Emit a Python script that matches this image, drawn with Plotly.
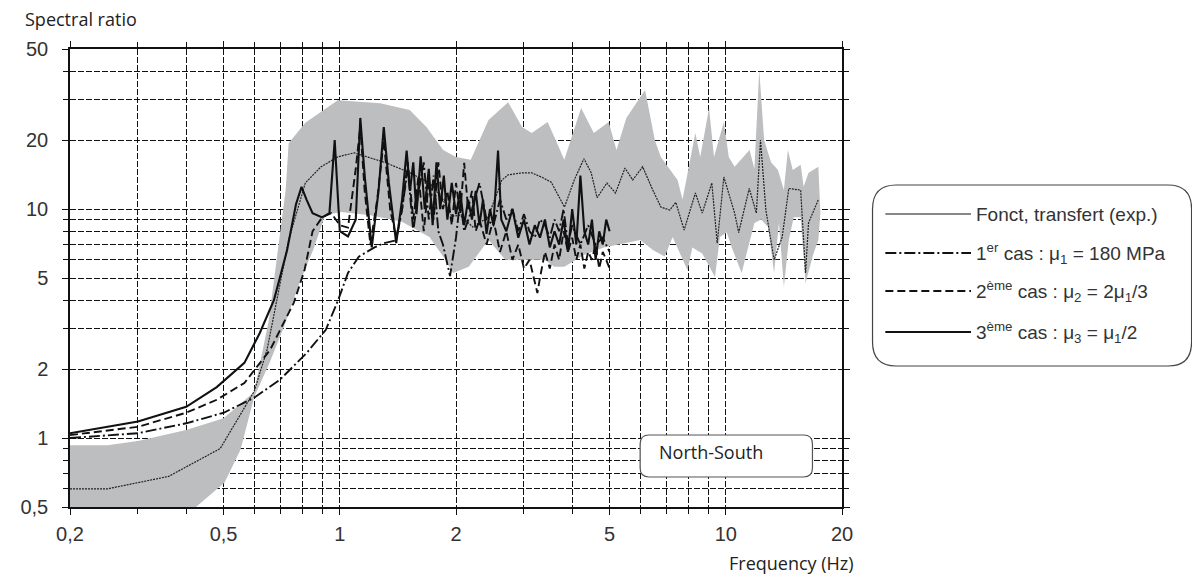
import plotly.graph_objects as go

# ---------------- data ----------------
band_upper_f = [0.2, 0.25, 0.30, 0.40, 0.50, 0.60, 0.655, 0.695, 0.724, 0.737, 0.814, 0.988, 1.273,
                1.517, 1.677, 1.853, 2.0, 2.184, 2.428, 2.73, 2.966, 3.143, 3.454, 3.598, 3.816,
                4.218, 4.551, 4.972, 5.21, 5.525, 6.178, 6.55, 6.785, 7.5, 7.724, 8.338, 8.586,
                9.05, 9.32, 9.885, 10.18, 10.54, 11.52, 11.86, 12.21, 12.57, 13.1, 13.65, 14.14,
                14.48, 14.91, 15.63, 15.91, 16.38, 17.37, 17.58]
band_upper_v = [0.93, 0.93, 0.97, 1.085, 1.22, 1.59, 3.28, 7.33, 12.1, 19.4, 23.8, 29.9, 29.0,
                27.1, 22.8, 18.1, 16.9, 16.4, 24.5, 29.3, 22.8, 21.5, 24.0, 20.6, 16.4,
                27.6, 21.5, 24.0, 18.1, 25.0, 33.1, 20.0, 16.9, 13.4, 11.0, 21.5, 16.9,
                27.6, 16.9, 24.0, 16.9, 15.3, 18.1, 15.0, 40.5, 20.0, 16.0, 14.8, 12.1,
                18.1, 14.8, 15.6, 12.5, 14.4, 15.3, 9.6]

band_lower_f = [0.2, 0.343, 0.424, 0.503, 0.553, 0.60, 0.659, 0.716, 0.786, 0.853, 0.916, 1.006,
                1.20, 1.448, 1.707, 1.853, 1.965, 2.158, 2.428, 2.683, 2.966, 3.393, 3.598, 3.816,
                4.292, 4.829, 6.0, 6.474, 6.948, 7.282, 7.957, 8.19, 8.688, 9.375, 9.656, 10.06,
                10.36, 10.99, 11.45, 11.86, 12.35, 12.87, 13.34, 13.73, 14.14, 14.56, 15.0, 15.63,
                16.09, 16.87, 17.37, 17.58]
band_lower_v = [0.4, 0.4, 0.5, 0.64, 0.89, 1.51, 2.15, 3.05, 4.75, 6.63, 9.4, 9.7,
                9.4, 8.8, 7.55, 6.2, 5.26, 5.6, 7.33, 6.0, 6.0, 6.0, 5.6, 5.6,
                6.3, 6.8, 7.33, 6.63, 6.2, 7.55, 5.4, 6.8, 6.4, 5.05, 7.55, 7.9,
                6.8, 5.26, 6.8, 8.7, 9.0, 8.35, 5.26, 8.7, 4.57, 7.33, 9.2, 9.2,
                4.75, 6.4, 7.33, 9.6]

exp_f = [0.2, 0.25, 0.36, 0.49, 0.6, 0.648, 0.695, 0.737, 0.814, 0.894, 0.988, 1.09, 1.32, 1.52,
         1.71, 1.85, 1.95, 2.05, 2.21, 2.42, 2.63, 2.73, 2.97, 3.14, 3.33, 3.53, 3.82, 4.05, 4.29,
         4.48, 4.64, 4.92, 5.18, 5.48, 5.74, 6.09, 6.47, 6.79, 7.16, 7.42, 7.8, 8.34, 8.69, 9.2,
         9.5, 9.885, 10.54, 10.8, 11.5, 12.0, 12.3, 12.7, 13.34, 14.0, 14.56, 15.63, 16.09, 16.38,
         17.37]
exp_v = [0.6, 0.6, 0.68, 0.9, 1.6, 2.43, 4.43, 7.33, 13.0, 15.3, 16.9, 17.6, 15.9, 14.4,
         13.0, 11.0, 9.3, 9.4, 8.35, 9.2, 13.4, 14.1, 14.4, 14.4, 13.8, 13.1, 10.2, 13.4, 16.6,
         14.4, 11.2, 13.0, 11.75, 15.1, 13.4, 15.3, 12.1, 10.2, 9.9, 10.7, 8.1, 11.75, 9.6, 13.0,
         7.1, 13.8, 9.6, 7.9, 12.3, 9.6, 20.0, 9.9, 6.0, 7.55, 12.3, 12.1, 5.26, 8.7,
         11.0]

case1_f = [0.2, 0.3, 0.4, 0.5, 0.6, 0.7, 0.82, 0.92, 0.99, 1.05, 1.12, 1.23, 1.3, 1.4, 1.45, 1.5,
           1.55, 1.6, 1.65, 1.7, 1.75, 1.8, 1.85, 1.93, 2.0, 2.05, 2.1, 2.2, 2.3, 2.4, 2.5, 2.6,
           2.7, 2.8, 2.9, 3.0, 3.1, 3.2, 3.3, 3.4, 3.5, 3.6, 3.7, 3.8, 3.9, 4.0, 4.2, 4.4, 4.6,
           4.8, 5.0]
case1_v = [1.0, 1.05, 1.16, 1.29, 1.5, 1.8, 2.35, 2.97, 4.0, 5.26, 6.2, 6.8, 7.1, 7.3, 10, 15,
           8, 12, 16, 9, 14, 8, 7, 5.1, 7.5, 11, 8, 10, 13, 9, 8.5, 11,
           9, 10, 8, 9.5, 8, 7.5, 9, 8.5, 7.5, 9, 8, 10, 7, 8.5, 7, 8.5, 7,
           7.5, 6.5]

case2_f = [0.2, 0.3, 0.4, 0.48, 0.566, 0.66, 0.76, 0.81, 0.85, 0.9, 0.95, 1.0, 1.05, 1.1, 1.13,
           1.16, 1.2, 1.25, 1.3, 1.35, 1.4, 1.45, 1.5, 1.55, 1.6, 1.65, 1.7, 1.75, 1.8, 1.85,
           1.9, 1.95, 2.0, 2.05, 2.1, 2.15, 2.2, 2.25, 2.3, 2.4, 2.5, 2.6, 2.7, 2.8, 2.9, 3.0,
           3.1, 3.2, 3.25, 3.3, 3.4, 3.5, 3.6, 3.7, 3.8, 3.9, 4.0, 4.1, 4.2, 4.3, 4.4, 4.5, 4.6,
           4.7, 4.8, 4.9, 5.0]
case2_v = [1.03, 1.12, 1.29, 1.47, 1.74, 2.43, 3.9, 5.4, 8.0, 9.2, 9.6, 8.5, 8.3, 15, 23,
           12, 7, 11, 20, 10, 7.5, 10, 16, 9, 14, 8, 13, 9, 16, 10,
           12, 8.5, 13, 9.5, 15.9, 10, 12, 8, 9, 7, 9, 6.5, 8, 6, 7, 5.5,
           6, 4.8, 4.3, 5, 6.5, 5.5, 7, 6, 8, 6.5, 7.5, 6, 7, 5.5, 6.5, 6, 7,
           5.5, 6.5, 6, 5.5]

case3_f = [0.2, 0.3, 0.4, 0.48, 0.566, 0.62, 0.675, 0.73, 0.77, 0.796, 0.82, 0.85, 0.9, 0.94,
           0.97, 1.0, 1.05, 1.1, 1.13, 1.16, 1.21, 1.26, 1.30, 1.34, 1.40, 1.45, 1.49, 1.52,
           1.55, 1.58, 1.62, 1.66, 1.70, 1.74, 1.78, 1.82, 1.86, 1.90, 1.95, 2.0, 2.05, 2.1,
           2.15, 2.2, 2.25, 2.3, 2.35, 2.4, 2.45, 2.5, 2.57, 2.62, 2.7, 2.8, 2.9, 3.0, 3.1,
           3.2, 3.3, 3.4, 3.5, 3.6, 3.7, 3.8, 3.9, 4.0, 4.1, 4.2, 4.3, 4.4, 4.5, 4.6, 4.7,
           4.8, 4.9, 5.0]
case3_v = [1.05, 1.18, 1.37, 1.67, 2.13, 2.87, 4.0, 6.6, 10.5, 12.5, 11.0, 9.6, 9.2, 9.6,
           20, 8, 7.6, 9, 25, 14, 6.8, 12, 22.8, 13, 7.1, 11, 18, 12,
           16, 9.5, 17, 10, 15, 8.5, 16, 10, 14, 9, 13, 9.5, 12, 8.5,
           11, 9, 12, 8.5, 11, 7.8, 10, 8.5, 18, 9, 8, 10, 7.5, 9, 7,
           8.5, 7.5, 9, 6.8, 8, 7, 9, 6.5, 10, 7, 14, 8, 7, 9, 6, 8,
           7, 9, 8]

x_tickvals = [0.2, 0.5, 1, 2, 5, 10, 20]
x_ticktext = ["0,2", "0,5", "1", "2", "5", "10", "20"]
x_minorvals = [0.3, 0.4, 0.6, 0.7, 0.8, 0.9, 3, 4, 6, 7, 8, 9]
y_tickvals = [0.5, 1, 2, 5, 10, 20, 50]
y_ticktext = ["0,5", "1", "2", "5", "10", "20", "50"]
y_minorvals = [0.6, 0.7, 0.8, 0.9, 3, 4, 6, 7, 8, 9, 30, 40]

legend_labels = ["Fonct, transfert (exp.)",
                 "1<sup>er</sup> cas : μ<sub>1</sub> = 180 MPa",
                 "2<sup>ème</sup> cas : μ<sub>2</sub> = 2μ<sub>1</sub>/3",
                 "3<sup>ème</sup> cas : μ<sub>3</sub> = μ<sub>1</sub>/2"]

# ---------------- figure ----------------
OFF = 8                      # page body margin
W, H = 1200 - OFF, 578 - OFF
L, T = 58 - OFF, 49 - OFF    # plot area left/top in figure px
PW, PH = 842 - 58, 507 - 49
R, B = W - L - PW, H - T - PH


def px_x(p):                 # absolute screenshot px -> paper
    return (p - OFF - L) / PW


def px_y(p):
    return (T + PH - (p - OFF)) / PH


def rounded_rect(x0, y0, x1, y1, r):
    rx, ry = r / PW, r / PH
    a0, a1 = px_x(x0), px_x(x1)
    b0, b1 = px_y(y1), px_y(y0)
    return (f"M{a0+rx},{b0} L{a1-rx},{b0} Q{a1},{b0} {a1},{b0+ry} "
            f"L{a1},{b1-ry} Q{a1},{b1} {a1-rx},{b1} L{a0+rx},{b1} "
            f"Q{a0},{b1} {a0},{b1-ry} L{a0},{b0+ry} Q{a0},{b0} {a0+rx},{b0} Z")


fig = go.Figure()

band_x = band_upper_f + band_lower_f[::-1]
band_y = band_upper_v + band_lower_v[::-1]
fig.add_trace(go.Scatter(x=band_x, y=band_y, mode="lines", fill="toself",
                         fillcolor="#bdbec0", line=dict(width=0), hoverinfo="skip",
                         showlegend=False))

ink = "#111111"
dashdot = "11px,3px,2px,3px"
fig.add_trace(go.Scatter(x=exp_f, y=exp_v, mode="lines",
                         line=dict(color="#222222", width=1.2, dash="2px,1px"), showlegend=False))
fig.add_trace(go.Scatter(x=case1_f, y=case1_v, mode="lines",
                         line=dict(color=ink, width=1.9, dash=dashdot), showlegend=False))
fig.add_trace(go.Scatter(x=case2_f, y=case2_v, mode="lines",
                         line=dict(color=ink, width=1.9, dash="8px,4px"), showlegend=False))
fig.add_trace(go.Scatter(x=case3_f, y=case3_v, mode="lines",
                         line=dict(color=ink, width=2.1), showlegend=False))

axis_common = dict(type="log", showline=True, linecolor="#111", linewidth=1.5, mirror="allticks",
                   ticks="outside", ticklen=6, tickcolor="#111", tickwidth=1,
                   showgrid=True, gridcolor="#111", gridwidth=1.1, griddash="6px,2px",
                   zeroline=False, tickfont=dict(family="Arial", size=20, color="#333"))
minor_common = dict(ticks="outside", ticklen=5, tickcolor="#111", tickwidth=1, showgrid=True,
                    gridcolor="#111", gridwidth=1.1, griddash="6px,2px")

fig.update_xaxes(range=[-0.69897, 1.30103], tickmode="array", tickvals=x_tickvals,
                 ticktext=x_ticktext, ticklabelstandoff=2,
                 minor=dict(tickmode="array", tickvals=x_minorvals, **minor_common), **axis_common)
fig.update_yaxes(range=[-0.30103, 1.69897], tickmode="array", tickvals=y_tickvals,
                 ticktext=y_ticktext, ticklabelstandoff=10,
                 minor=dict(tickmode="array", tickvals=y_minorvals, **minor_common), **axis_common)

shapes = []
shapes.append(dict(type="path", xref="paper", yref="paper", path=rounded_rect(637, 435, 812, 477, 9),
                   line=dict(color="#555", width=1.2), fillcolor="white", layer="above"))
shapes.append(dict(type="path", xref="paper", yref="paper", path=rounded_rect(873, 185, 1197, 366, 24),
                   line=dict(color="#444", width=1.2), fillcolor="white", layer="above"))
legend_y = [214, 253, 291, 332]
legend_dash = ["solid", dashdot, "8px,4px", "solid"]
legend_w = [1, 1.9, 1.9, 2.1]
for yy, dd, ww in zip(legend_y, legend_dash, legend_w):
    shapes.append(dict(type="line", xref="paper", yref="paper", x0=px_x(886), x1=px_x(973),
                       y0=px_y(yy), y1=px_y(yy), line=dict(color=ink, width=ww, dash=dd)))

annotations = []
for yy, txt in zip(legend_y, legend_labels):
    annotations.append(dict(xref="paper", yref="paper", x=px_x(976), y=px_y(yy), text=txt,
                            xanchor="left", yanchor="middle", showarrow=False,
                            font=dict(family="Arial", size=19, color="#333")))
annotations.append(dict(xref="paper", yref="paper", x=px_x(654), y=px_y(452), text="North-South",
                        xanchor="left", yanchor="middle", showarrow=False,
                        font=dict(family="Open Sans", size=18, color="#222")))
annotations.append(dict(xref="paper", yref="paper", x=px_x(10), y=px_y(19), text="Spectral ratio",
                        xanchor="left", yanchor="middle", showarrow=False,
                        font=dict(family="Open Sans", size=18, color="#222")))
annotations.append(dict(xref="paper", yref="paper", x=px_x(856), y=px_y(563), text="Frequency (Hz)",
                        xanchor="right", yanchor="middle", showarrow=False,
                        font=dict(family="Open Sans", size=18, color="#222")))

fig.update_layout(width=W, height=H, margin=dict(l=L, r=R, t=T, b=B),
                  paper_bgcolor="white", plot_bgcolor="white", showlegend=False,
                  shapes=shapes, annotations=annotations)

fig.write_html("out.html")
